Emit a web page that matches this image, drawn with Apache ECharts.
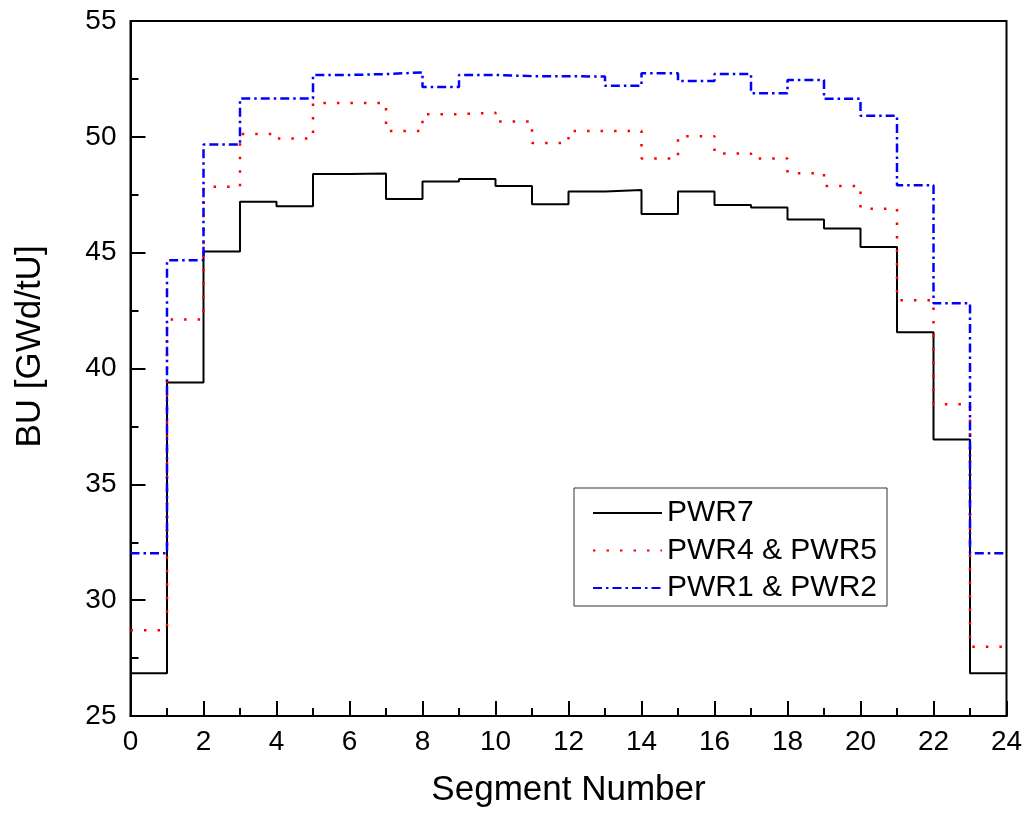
<!DOCTYPE html>
<html>
<head>
<meta charset="utf-8">
<script src="https://cdn.jsdelivr.net/npm/echarts@6/dist/echarts.min.js"></script>
<style>
html,body{margin:0;padding:0;background:#fff;}
#chart{width:1030px;height:817px;}
</style>
</head>
<body>
<div id="chart"></div>
<script>
var chart = echarts.init(document.getElementById('chart'));

/* burnup per segment, 24 segments */
var segEdges = [0,1,2,3,4,5,6,7,8,9,10,11,12,13,14,15,16,17,18,19,20,21,22,23,24];
var pwr7 = [26.85, 39.4, 45.05, 47.2, 47.0, 48.4, 48.42, 47.32, 48.07, 48.18, 47.88, 47.09,
            47.64, 47.7, 46.67, 47.64, 47.06, 46.95, 46.43, 46.04, 45.24, 41.57, 36.93, 26.85];
var pwr45 = [28.7, 42.12, 47.84, 50.12, 49.93, 51.46, 51.46, 50.25, 50.98, 51.04, 50.66, 49.73,
             50.25, 50.25, 49.07, 50.02, 49.28, 49.07, 48.43, 47.88, 46.9, 42.95, 38.46, 27.99];
var pwr12 = [32.03, 44.67, 49.67, 51.66, 51.66, 52.67, 52.71, 52.78, 52.15, 52.67, 52.62, 52.62,
             52.6, 52.2, 52.75, 52.41, 52.71, 51.88, 52.45, 51.64, 50.91, 47.91, 42.82, 32.03];
var names = ['PWR7', 'PWR4 & PWR5', 'PWR1 & PWR2'];

// step data: each value holds from its segment start to the next edge
function steps(vals){
    var out = [];
    for (var i = 0; i < vals.length; i++) out.push([segEdges[i], vals[i]]);
    out.push([segEdges[vals.length], vals[vals.length-1]]);
    return out;
}

var font = 'Liberation Sans, Arial, sans-serif';

var option = {
    animation: false,
    backgroundColor: '#fff',
    grid: {
        left: 130.5, right: 23.5, top: 21, bottom: 101,
        show: true, borderColor: '#000', borderWidth: 2
    },
    legend: {
        orient: 'vertical',
        left: 574, top: 488,
        padding: [10, 10, 3, 18],
        itemWidth: 69, itemHeight: 14, itemGap: 7.5,
        borderColor: '#333', borderWidth: 1,
        itemStyle: { opacity: 0 },
        textStyle: { fontFamily: font, fontSize: 30, color: '#000', lineHeight: 30 },
        data: names
    },
    xAxis: {
        type: 'value',
        min: 0, max: 24, interval: 2,
        name: 'Segment Number',
        nameLocation: 'middle',
        nameGap: 57,
        nameTextStyle: { fontFamily: font, fontSize: 35, color: '#000' },
        axisLine: { lineStyle: { color: '#000', width: 2 } },
        axisTick: { inside: true, length: 15, lineStyle: { color: '#000', width: 2 } },
        minorTick: { show: true, splitNumber: 2, length: 8, lineStyle: { color: '#000', width: 2 } },
        axisLabel: { fontFamily: font, fontSize: 28, color: '#000', margin: 12 },
        splitLine: { show: false }
    },
    yAxis: {
        type: 'value',
        min: 25, max: 55, interval: 5,
        name: 'BU [GWd/tU]',
        nameLocation: 'middle',
        nameGap: 83,
        nameTextStyle: { fontFamily: font, fontSize: 35, color: '#000', padding: [0, 0, 0, 44] },
        axisLine: { show: true, lineStyle: { color: '#000', width: 2 } },
        axisTick: { show: true, inside: true, length: 15, lineStyle: { color: '#000', width: 2 } },
        minorTick: { show: true, splitNumber: 2, length: 8, lineStyle: { color: '#000', width: 2 } },
        axisLabel: { fontFamily: font, fontSize: 28, color: '#000', margin: 14 },
        splitLine: { show: false }
    },
    series: [
        {
            name: names[0], type: 'line', step: 'end', symbol: 'none',
            color: '#000',
            lineStyle: { color: '#000', width: 2 },
            data: steps(pwr7)
        },
        {
            name: names[1], type: 'line', step: 'end', symbol: 'none',
            color: '#ff0000',
            lineStyle: { color: '#ff0000', width: 2.5, type: [2.5, 11] },
            data: steps(pwr45)
        },
        {
            name: names[2], type: 'line', step: 'end', symbol: 'none',
            color: '#0000ff',
            lineStyle: { color: '#0000ff', width: 2.5, type: [9, 4, 2.5, 4] },
            data: steps(pwr12)
        }
    ]
};
chart.setOption(option);
</script>
</body>
</html>
